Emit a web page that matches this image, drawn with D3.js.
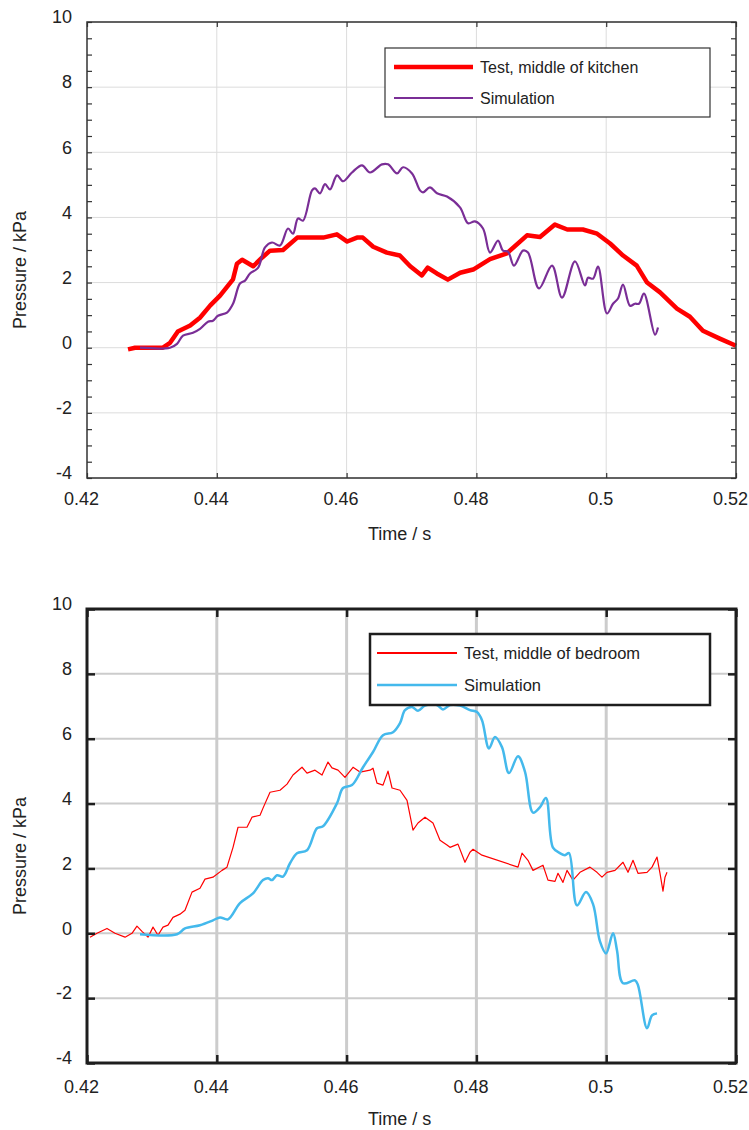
<!DOCTYPE html>
<html>
<head>
<meta charset="utf-8">
<script src="https://cdn.jsdelivr.net/npm/d3@7"></script>
<style>
body { margin: 0; background: #fff; }
text { font-family: "Liberation Sans", Arial, sans-serif; fill: #222; }
</style>
</head>
<body>
<div id="chart"></div>
<script>
// Pressure traces, kitchen (top) and bedroom (bottom)

const xTicks = [0.42, 0.44, 0.46, 0.48, 0.5, 0.52];
const yTicks = [-4, -2, 0, 2, 4, 6, 8, 10];

const kitchenLabels = ["Test, middle of kitchen", "Simulation"];
const bedroomLabels = ["Test, middle of bedroom", "Simulation"];

// [time s, pressure kPa]
const kitchenTest = [
    [0.42632,-0.05],[0.4274,0],[0.4317,0],[0.4328,0.15],[0.4340,0.5],[0.4359,0.68],[0.4374,0.92],
    [0.4390,1.3],[0.4405,1.6],[0.4425,2.1],[0.4431,2.58],[0.4439,2.7],[0.4456,2.5],[0.4470,2.77],
    [0.4482,2.98],[0.4502,3.0],[0.4524,3.38],[0.4544,3.38],[0.4564,3.38],[0.4585,3.48],[0.4601,3.26],
    [0.4616,3.38],[0.4625,3.38],[0.4641,3.1],[0.4662,2.92],[0.4682,2.83],[0.4698,2.5],[0.4716,2.22],
    [0.4725,2.46],[0.4739,2.28],[0.4756,2.09],[0.4775,2.3],[0.4795,2.4],[0.4821,2.72],[0.4847,2.9],
    [0.4878,3.45],[0.4898,3.4],[0.4921,3.78],[0.4940,3.63],[0.4964,3.63],[0.4986,3.5],[0.5006,3.2],
    [0.5026,2.83],[0.5047,2.52],[0.5063,2.0],[0.5083,1.7],[0.5109,1.2],[0.5129,0.95],[0.5149,0.52],
    [0.5175,0.28],[0.5200,0.06]
];

const kitchenSim = [
    [0.42817,0],[0.43279,0],[0.43387,0.12],[0.43479,0.37],[0.43633,0.46],[0.43741,0.58],[0.43864,0.80],
    [0.43941,0.83],[0.44018,0.98],[0.44157,1.08],[0.44250,1.35],[0.44357,1.97],[0.44435,2.06],
    [0.44512,2.28],[0.44635,2.45],[0.44743,3.08],[0.44851,3.23],[0.44974,3.14],[0.45097,3.66],
    [0.45174,3.5],[0.45251,3.97],[0.45328,3.9],[0.45467,4.83],[0.45513,4.89],[0.45590,4.74],
    [0.45667,5.02],[0.45744,4.86],[0.45852,5.29],[0.45945,5.11],[0.46083,5.38],[0.46237,5.6],
    [0.46361,5.38],[0.46545,5.63],[0.46638,5.63],[0.46777,5.35],[0.46869,5.54],[0.47008,5.35],
    [0.47131,4.83],[0.47177,4.77],[0.47285,4.92],[0.47393,4.74],[0.47547,4.64],[0.47747,4.31],
    [0.47871,3.82],[0.47978,3.88],[0.48102,3.66],[0.48210,2.92],[0.48333,3.29],[0.48410,2.98],
    [0.48487,2.95],[0.48579,2.52],[0.48718,2.98],[0.48795,2.92],[0.48965,1.82],[0.49165,2.52],
    [0.49319,1.54],[0.49519,2.65],[0.49673,1.91],[0.49720,2.15],[0.49797,2.12],[0.49874,2.49],
    [0.50012,1.05],[0.50105,1.35],[0.50182,1.51],[0.50259,1.94],[0.50367,1.29],[0.50444,1.35],
    [0.50505,1.35],[0.50582,1.66],[0.50752,0.40],[0.50798,0.62]
];

const bedroomTest = [
    [0.42046,-0.12],[0.42154,0],[0.42308,0.15],[0.42431,0],[0.42586,-0.12],[0.42693,0],[0.42770,0.22],
    [0.42847,0.06],[0.42940,-0.12],[0.43017,0.19],[0.43094,-0.06],[0.43171,0.19],[0.43248,0.25],
    [0.43325,0.49],[0.43433,0.59],[0.43510,0.71],[0.43618,1.27],[0.43741,1.39],[0.43818,1.67],
    [0.43941,1.73],[0.44080,1.94],[0.44157,2.04],[0.44250,2.65],[0.44327,3.27],[0.44465,3.27],
    [0.44542,3.58],[0.44666,3.64],[0.44712,3.86],[0.44820,4.35],[0.44974,4.41],[0.45082,4.6],
    [0.45174,4.88],[0.45313,5.12],[0.45390,4.94],[0.45513,5.03],[0.45621,4.88],[0.45713,5.28],
    [0.45775,5.1],[0.45868,5.03],[0.45975,4.81],[0.46099,5.12],[0.46206,4.97],[0.46361,5.03],
    [0.46407,5.09],[0.46468,4.63],[0.46561,4.57],[0.46638,5.0],[0.46700,4.48],[0.46823,4.41],
    [0.46931,4.1],[0.47023,3.18],[0.47100,3.4],[0.47208,3.58],[0.47331,3.4],[0.47439,2.87],
    [0.47547,2.72],[0.47593,2.65],[0.47716,2.75],[0.47824,2.19],[0.47901,2.5],[0.47948,2.59],
    [0.48086,2.41],[0.48641,2.04],[0.48703,2.47],[0.48795,2.25],[0.48872,1.94],[0.49026,2.1],
    [0.49103,1.64],[0.49211,1.6],[0.49257,1.85],[0.49334,1.57],[0.49396,1.94],[0.49488,1.64],
    [0.49596,1.88],[0.49750,2.04],[0.49858,1.88],[0.49935,1.73],[0.50012,1.88],[0.50136,1.94],
    [0.50259,2.19],[0.50336,1.88],[0.50413,2.25],[0.50490,1.85],[0.50629,1.88],[0.50706,2.04],
    [0.50783,2.35],[0.50829,1.85],[0.50875,1.3],[0.50906,1.73],[0.50937,1.88]
];

const bedroomSim = [
    [0.42817,-0.03],[0.43387,-0.03],[0.43510,0.15],[0.43741,0.25],[0.43941,0.40],[0.44049,0.49],
    [0.44173,0.43],[0.44357,0.93],[0.44558,1.23],[0.44712,1.64],[0.44789,1.70],[0.44851,1.64],
    [0.44928,1.79],[0.45020,1.75],[0.45128,2.16],[0.45236,2.47],[0.45390,2.56],[0.45544,3.24],
    [0.45636,3.30],[0.45852,4.01],[0.45945,4.48],[0.46083,4.57],[0.46253,5.12],[0.46407,5.59],
    [0.46561,6.11],[0.46715,6.20],[0.46823,6.48],[0.46900,6.88],[0.47008,6.98],[0.47100,6.86],
    [0.47208,7.02],[0.47393,7.04],[0.47485,6.90],[0.47593,7.04],[0.47747,7.02],[0.47901,6.88],
    [0.48009,6.82],[0.48086,6.57],[0.48194,5.70],[0.48287,6.05],[0.48394,5.74],[0.48502,4.94],
    [0.48641,5.46],[0.48749,4.98],[0.48872,3.72],[0.48980,3.89],[0.49072,4.17],[0.49180,2.64],
    [0.49288,2.47],[0.49365,2.41],[0.49427,2.47],[0.49550,0.86],[0.49689,1.27],[0.49797,0.90],
    [0.49904,-0.25],[0.49997,-0.62],[0.50105,0],[0.50166,-0.52],[0.50259,-1.54],[0.50444,-1.45],
    [0.50490,-1.60],[0.50629,-2.93],[0.50706,-2.53],[0.50783,-2.47]
];

const width = 749, height = 1130;

let svg = d3.select("#chart")
    .append("svg")
    .attr("width", width)
    .attr("height", height);

const fmt = d => String(d); // plain hyphen for negatives, like the original

function drawPanel(p) {
    let g = svg.append("g");

    let x = d3.scaleLinear().domain([0.42, 0.52]).range([p.left, p.right]);
    let y = d3.scaleLinear().domain([-4, 10]).range([p.bottom, p.top]);

    // grid
    g.selectAll(".vgrid")
        .data(xTicks.slice(1, -1))
        .join("line")
        .attr("x1", d => x(d)).attr("x2", d => x(d))
        .attr("y1", p.top).attr("y2", p.bottom)
        .attr("stroke", p.gridColor)
        .attr("stroke-width", p.vGridWidth);

    g.selectAll(".hgrid")
        .data(yTicks)
        .join("line")
        .attr("x1", p.left).attr("x2", p.right)
        .attr("y1", d => y(d)).attr("y2", d => y(d))
        .attr("stroke", p.gridColor)
        .attr("stroke-width", p.hGridWidth);

    // series
    let line = d3.line().x(d => x(d[0])).y(d => y(d[1]));

    g.append("path")
        .datum(p.test)
        .attr("fill", "none")
        .attr("stroke", "#ff0000")
        .attr("stroke-width", p.testWidth)
        .attr("stroke-linejoin", "round")
        .attr("d", line);

    g.append("path")
        .datum(p.sim)
        .attr("fill", "none")
        .attr("stroke", p.simColor)
        .attr("stroke-width", p.simWidth)
        .attr("stroke-linejoin", "round")
        .attr("d", line.curve(d3.curveCatmullRom));

    // frame
    g.append("rect")
        .attr("x", p.left).attr("y", p.top)
        .attr("width", p.right - p.left).attr("height", p.bottom - p.top)
        .attr("fill", "none")
        .attr("stroke", p.frameColor)
        .attr("stroke-width", p.frameWidth);

    // inward tick marks on all four sides
    let yt = p.minor ? y.ticks(28) : yTicks;
    let tickStyle = sel => {
        sel.select(".domain").remove();
        sel.selectAll("line").attr("stroke", p.frameColor).attr("stroke-width", p.tickWidth);
    };
    g.append("g").attr("transform", `translate(${p.left},0)`)
        .call(d3.axisLeft(y).tickValues(yt).tickSize(-p.tickLen).tickFormat(""))
        .call(tickStyle);
    g.append("g").attr("transform", `translate(${p.right},0)`)
        .call(d3.axisRight(y).tickValues(yt).tickSize(-p.tickLen).tickFormat(""))
        .call(tickStyle);
    g.append("g").attr("transform", `translate(0,${p.top})`)
        .call(d3.axisTop(x).tickValues(xTicks).tickSize(-p.tickLen).tickFormat(""))
        .call(tickStyle);
    g.append("g").attr("transform", `translate(0,${p.bottom})`)
        .call(d3.axisBottom(x).tickValues(xTicks).tickSize(-p.tickLen).tickFormat(""))
        .call(tickStyle);

    // tick labels
    let xl = g.append("g").attr("transform", `translate(0,${p.bottom})`)
        .call(d3.axisBottom(x).tickValues(xTicks).tickSize(0).tickFormat(fmt));
    xl.select(".domain").remove();
    xl.selectAll("text")
        .attr("x", -6).attr("y", p.xLabelDy)
        .style("font-size", "18px").style("fill", "#222");

    let yl = g.append("g").attr("transform", `translate(${p.left},0)`)
        .call(d3.axisLeft(y).tickValues(yTicks).tickSize(0).tickFormat(fmt));
    yl.select(".domain").remove();
    yl.selectAll("text")
        .attr("x", -15).attr("y", -5)
        .style("font-size", "18px").style("fill", "#222");

    // axis titles
    g.append("text")
        .text("Time / s")
        .attr("x", 368).attr("y", p.bottom + p.titleDy)
        .style("font-size", "18px");

    g.append("text")
        .text("Pressure / kPa")
        .attr("text-anchor", "middle")
        .attr("transform", `translate(26,${(p.top + p.bottom) / 2 + 20}) rotate(-90)`)
        .style("font-size", "18px");

    // legend
    let L = p.legend;
    g.append("rect")
        .attr("x", L.x).attr("y", L.y).attr("width", L.w).attr("height", L.h)
        .attr("fill", "#fff")
        .attr("stroke", p.legendStroke)
        .attr("stroke-width", p.legendStrokeWidth);

    let rows = [
        {label: p.labels[0], color: "#ff0000", w: p.testLegendWidth},
        {label: p.labels[1], color: p.simColor, w: p.simWidth}
    ];
    let item = g.selectAll(".legend-item")
        .data(rows)
        .join("g")
        .attr("transform", (d, i) => `translate(${L.x},${L.row[i]})`);
    item.append("line")
        .attr("x1", L.lx1).attr("x2", L.lx2)
        .attr("stroke", d => d.color)
        .attr("stroke-width", d => d.w);
    item.append("text")
        .text(d => d.label)
        .attr("x", L.tx)
        .attr("dy", "0.36em")
        .style("font-size", p.legendFont);
}

drawPanel({
    left: 87, right: 736, top: 22, bottom: 478,
    test: kitchenTest, sim: kitchenSim, labels: kitchenLabels,
    simColor: "#7a2e96", simWidth: 2.2, testWidth: 4.5, testLegendWidth: 4.5,
    gridColor: "#dcdcdc", vGridWidth: 1, hGridWidth: 1,
    frameColor: "#333", frameWidth: 1.5, tickWidth: 1.2, tickLen: 5, minor: true,
    xLabelDy: 14, titleDy: 62,
    legend: {x: 385, y: 48, w: 325, h: 69, row: [67, 98], lx1: 9, lx2: 88, tx: 95},
    legendStroke: "#333", legendStrokeWidth: 1.2, legendFont: "16px"
});

drawPanel({
    left: 87, right: 736, top: 609, bottom: 1063,
    test: bedroomTest, sim: bedroomSim, labels: bedroomLabels,
    simColor: "#44b9ec", simWidth: 2.5, testWidth: 1.2, testLegendWidth: 2,
    gridColor: "#cccccc", vGridWidth: 3, hGridWidth: 2,
    frameColor: "#1e1e1e", frameWidth: 3, tickWidth: 2.5, tickLen: 8, minor: false,
    xLabelDy: 17, titleDy: 62,
    legend: {x: 370, y: 634, w: 340, h: 71, row: [653, 685], lx1: 7, lx2: 87, tx: 94},
    legendStroke: "#1e1e1e", legendStrokeWidth: 2.5, legendFont: "16.5px"
});
</script>
</body>
</html>
